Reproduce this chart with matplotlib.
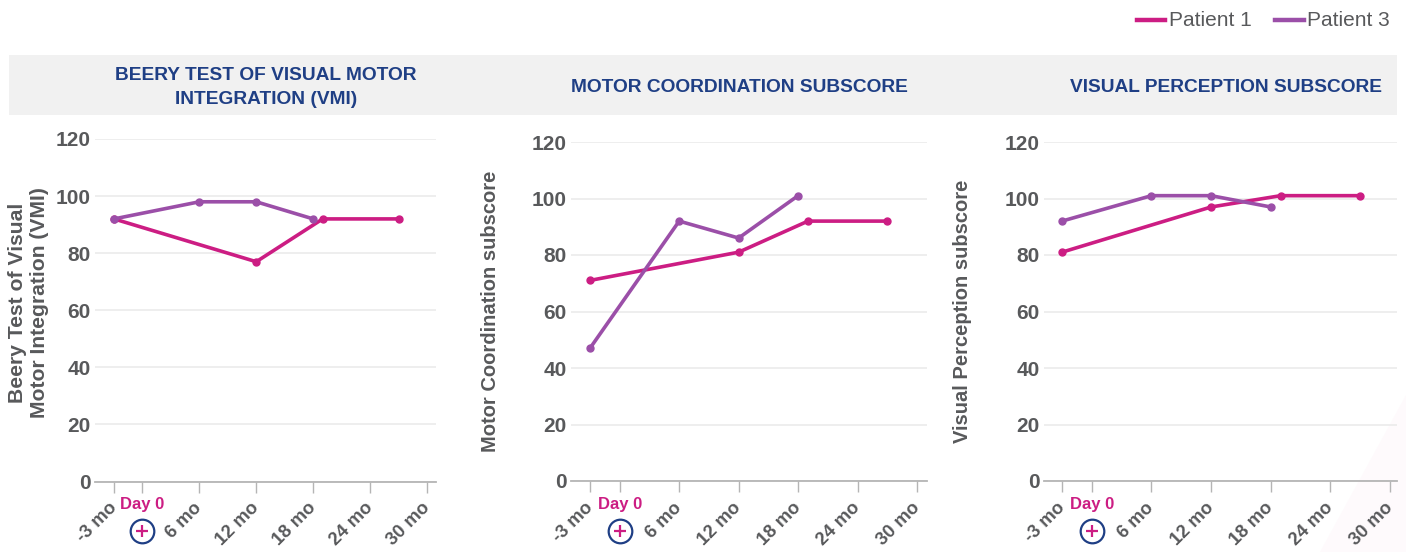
import matplotlib
matplotlib.use('Agg')
import matplotlib.pyplot as plt
from matplotlib.patches import Rectangle, Polygon

plt.rcParams['font.family'] = ['Liberation Sans', 'DejaVu Sans']

W, H = 1406, 552

months = [-3, 0, 6, 12, 18, 24, 30]
month_labels = ['-3 mo', '', '6 mo', '12 mo', '18 mo', '24 mo', '30 mo']
y_ticks = [0, 20, 40, 60, 80, 100, 120]

p1_x = [-3, 12, 19, 27]
p3_x = [-3, 6, 12, 18]

vmi_p1 = [92, 77, 92, 92]
vmi_p3 = [92, 98, 98, 92]
motor_p1 = [71, 81, 92, 92]
motor_p3 = [47, 92, 86, 101]
visual_p1 = [81, 97, 101, 101]
visual_p3 = [92, 101, 101, 97]

titles = ['BEERY TEST OF VISUAL MOTOR\nINTEGRATION (VMI)', 'MOTOR COORDINATION SUBSCORE', 'VISUAL PERCEPTION SUBSCORE']
ylabels = ['Beery Test of Visual\nMotor Integration (VMI)', 'Motor Coordination subscore', 'Visual Perception subscore']
ylabel_sizes = [15.2, 14.5, 14.5]
ylabel_y = [303, 311, 311]

PINK = '#cc1d83'
PURPLE = '#9b4fa8'
NAVY = '#1f3f85'
GREY = '#58595b'

fig = plt.figure(figsize=(W / 100, H / 100), dpi=100, facecolor='white')


def fx(px):
    return px / W


def fy(py):
    return 1 - py / H


# faint corner tint
fig.patches.append(Polygon([[fx(1320), fy(552)], [fx(1406), fy(395)], [fx(1406), fy(552)]],
                           transform=fig.transFigure, facecolor='#fefafc', edgecolor='none', zorder=-2))
# title band
fig.patches.append(Rectangle((fx(9), fy(115)), fx(1388), 60 / H, transform=fig.transFigure,
                             facecolor='#f1f1f1', edgecolor='none', zorder=-1))

# left, right, top, bottom, px of -3 mo, px of 30 mo, title centre, ylabel x
panels = [
    (95, 436, 139, 481.5, 114, 427, 266, 28.5, vmi_p1, vmi_p3),
    (571, 927, 142, 481, 590, 917, 739, 490, motor_p1, motor_p3),
    (1044, 1397, 142, 481, 1062, 1390, 1226, 962, visual_p1, visual_p3),
]

for i, (l, r, t, b, x0, x1, tc, yl, p1, p3) in enumerate(panels):
    ax = fig.add_axes([fx(l), fy(b), (r - l) / W, (b - t) / H], facecolor='none')
    scale = (x1 - x0) / 33
    ax.set_xlim(-3 - (x0 - l) / scale, 30 + (r - x1) / scale)
    ax.set_ylim(0, 120)

    ax.plot(p1_x, p1, color=PINK, lw=2.6, marker='o', ms=5, clip_on=False, zorder=3)
    ax.plot(p3_x, p3, color=PURPLE, lw=2.6, marker='o', ms=5, clip_on=False, zorder=4)

    ax.set_yticks(y_ticks)
    ax.set_xticks(months)
    ax.set_xticklabels([])
    ax.grid(axis='y', color='#ebebeb', lw=1.2)
    ax.set_axisbelow(True)
    for s in ['top', 'right', 'left']:
        ax.spines[s].set_visible(False)
    ax.spines['bottom'].set_color('#b5b5b5')
    ax.spines['bottom'].set_linewidth(1.3)
    ax.tick_params(axis='y', length=0, pad=3, labelsize=15, labelcolor=GREY)
    ax.tick_params(axis='x', length=8, width=1, color='#b5b5b5')
    for lab in ax.get_yticklabels():
        lab.set_fontweight('bold')

    for m, s in zip(months, month_labels):
        if s:
            ax.annotate(s, xy=(m, 0), xycoords='data', xytext=(-6, -18), textcoords='offset pixels',
                        rotation=45, rotation_mode='anchor', ha='right', va='top',
                        fontsize=13.2, fontweight='bold', color=GREY)

    # Day 0 marker
    day_px = x0 + 3 * scale
    fig.text(fx(day_px), fy(505), 'Day 0', color=PINK, fontsize=12, fontweight='bold', ha='center', va='center')
    fig.add_artist(plt.Line2D([fx(day_px)], [fy(531)], marker='o', ms=17, mfc='white', mec=NAVY, mew=1.6,
                              transform=fig.transFigure))
    fig.add_artist(plt.Line2D([fx(day_px)], [fy(531)], marker='+', ms=9, mec=PINK, mew=1.6,
                              transform=fig.transFigure))

    fig.text(fx(tc), fy(87.5), titles[i], color=NAVY, fontsize=13.8, fontweight='bold', ha='center', va='center',
             linespacing=1.6)
    fig.text(fx(yl), fy(ylabel_y[i]), ylabels[i], color=GREY, fontsize=ylabel_sizes[i], fontweight='bold',
             rotation=90, ha='center', va='center', linespacing=1.15)

# legend
fig.add_artist(plt.Line2D([fx(1137), fx(1165)], [fy(20), fy(20)], color=PINK, lw=3.2, transform=fig.transFigure))
fig.text(fx(1169), fy(20.5), 'Patient 1', color=GREY, fontsize=15, ha='left', va='center')
fig.add_artist(plt.Line2D([fx(1275), fx(1304)], [fy(20), fy(20)], color=PURPLE, lw=3.2, transform=fig.transFigure))
fig.text(fx(1307), fy(20.5), 'Patient 3', color=GREY, fontsize=15, ha='left', va='center')

fig.savefig('out.png', dpi=100)
